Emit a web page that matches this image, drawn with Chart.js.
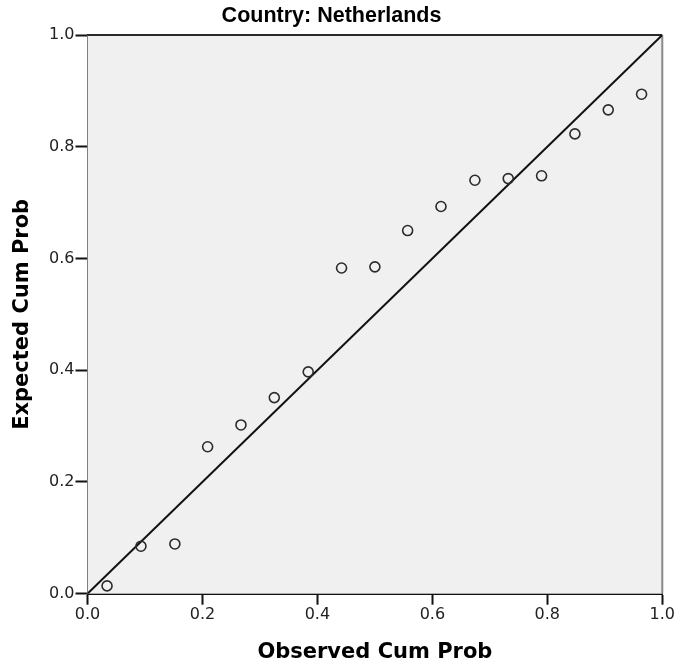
<!DOCTYPE html>
<html>
<head>
<meta charset="utf-8">
<script src="https://cdn.jsdelivr.net/npm/chart.js@4/dist/chart.umd.min.js"></script>
<style>
  html, body { margin: 0; padding: 0; background: #ffffff; }
  canvas { display: block; }
</style>
</head>
<body>
<canvas id="pp" width="676" height="668"></canvas>
<script>
// P-P plot: observed vs expected cumulative probability
const observedCumProb = [0.034, 0.093, 0.152, 0.209, 0.267, 0.325, 0.384, 0.442, 0.500,
                         0.557, 0.615, 0.674, 0.732, 0.790, 0.848, 0.906, 0.964];
const expectedCumProb = [0.014, 0.085, 0.089, 0.263, 0.302, 0.351, 0.397, 0.583, 0.585,
                         0.650, 0.693, 0.740, 0.743, 0.748, 0.823, 0.866, 0.894];
const referenceLine = [0, 1];
const tickValues = [0, 0.2, 0.4, 0.6, 0.8, 1.0];

const chartTitle = 'Country: Netherlands';
const xTitle = 'Observed Cum Prob';
const yTitle = 'Expected Cum Prob';

const points = observedCumProb.map((x, i) => ({ x: x, y: expectedCumProb[i] }));
const diagonal = referenceLine.map(v => ({ x: v, y: v }));

// grey plot panel behind the data, with the top and right frame edges
const panel = {
  id: 'panel',
  beforeDatasetsDraw(chart) {
    const a = chart.chartArea, ctx = chart.ctx;
    ctx.save();
    ctx.fillStyle = '#f0f0f0';
    ctx.fillRect(a.left, a.top, a.right - a.left, a.bottom - a.top);
    ctx.lineWidth = 2;
    ctx.strokeStyle = '#2a2a2a';
    ctx.beginPath();
    ctx.moveTo(a.left, a.top);
    ctx.lineTo(a.right, a.top);
    ctx.stroke();
    ctx.strokeStyle = '#8a8a8a';
    ctx.beginPath();
    ctx.moveTo(a.right, a.top);
    ctx.lineTo(a.right, a.bottom);
    ctx.stroke();
    ctx.restore();
  }
};

const tickFont = { family: '"DejaVu Sans", "Liberation Sans", sans-serif', size: 16 };
const axisTitleFont = { family: '"DejaVu Sans", "Liberation Sans", sans-serif', size: 21, weight: 'bold' };

new Chart(document.getElementById('pp'), {
  type: 'scatter',
  data: {
    datasets: [
      {
        type: 'line',
        data: diagonal,
        borderColor: '#111111',
        borderWidth: 2,
        pointRadius: 0,
        fill: false,
        order: 2
      },
      {
        data: points,
        pointStyle: 'circle',
        pointRadius: 5,
        pointBorderWidth: 1.6,
        borderColor: '#2b2b2b',
        backgroundColor: 'rgba(0,0,0,0)',
        order: 1
      }
    ]
  },
  options: {
    responsive: false,
    animation: false,
    devicePixelRatio: 1,
    layout: { padding: { left: 0, right: 13, top: 0, bottom: 0 } },
    plugins: {
      legend: { display: false },
      tooltip: { enabled: false },
      title: {
        display: true,
        text: chartTitle,
        color: '#000000',
        font: { family: '"Liberation Sans Narrow", "Liberation Sans", Arial, sans-serif', size: 21.5, weight: 'bold' },
        padding: { top: 3, bottom: 6.2 }
      }
    },
    scales: {
      x: {
        type: 'linear',
        min: 0,
        max: 1,
        afterBuildTicks(scale) { scale.ticks = tickValues.map(v => ({ value: v })); },
        afterFit(scale) { scale.height = 74.3; },
        title: {
          display: true,
          text: xTitle,
          color: '#000000',
          font: axisTitleFont,
          padding: { top: 0, bottom: 2.4 }
        },
        ticks: {
          color: '#222222',
          font: tickFont,
          padding: 1,
          maxRotation: 0,
          callback: v => Number(v).toFixed(1)
        },
        grid: { drawOnChartArea: false, drawTicks: true, tickLength: 11, tickColor: '#111111', tickWidth: 2 },
        border: { display: true, color: '#111111', width: 2 }
      },
      y: {
        type: 'linear',
        min: 0,
        max: 1,
        afterBuildTicks(scale) { scale.ticks = tickValues.map(v => ({ value: v })); },
        afterFit(scale) { scale.width = 87.5; },
        title: {
          display: true,
          text: yTitle,
          color: '#000000',
          font: axisTitleFont,
          padding: { top: 10.4, bottom: 0 }
        },
        ticks: {
          color: '#222222',
          font: tickFont,
          padding: 1,
          callback: v => Number(v).toFixed(1)
        },
        grid: { drawOnChartArea: false, drawTicks: true, tickLength: 12, tickColor: '#111111', tickWidth: 2 },
        border: { display: true, color: '#111111', width: 2 }
      }
    }
  },
  plugins: [panel]
});
</script>
</body>
</html>
